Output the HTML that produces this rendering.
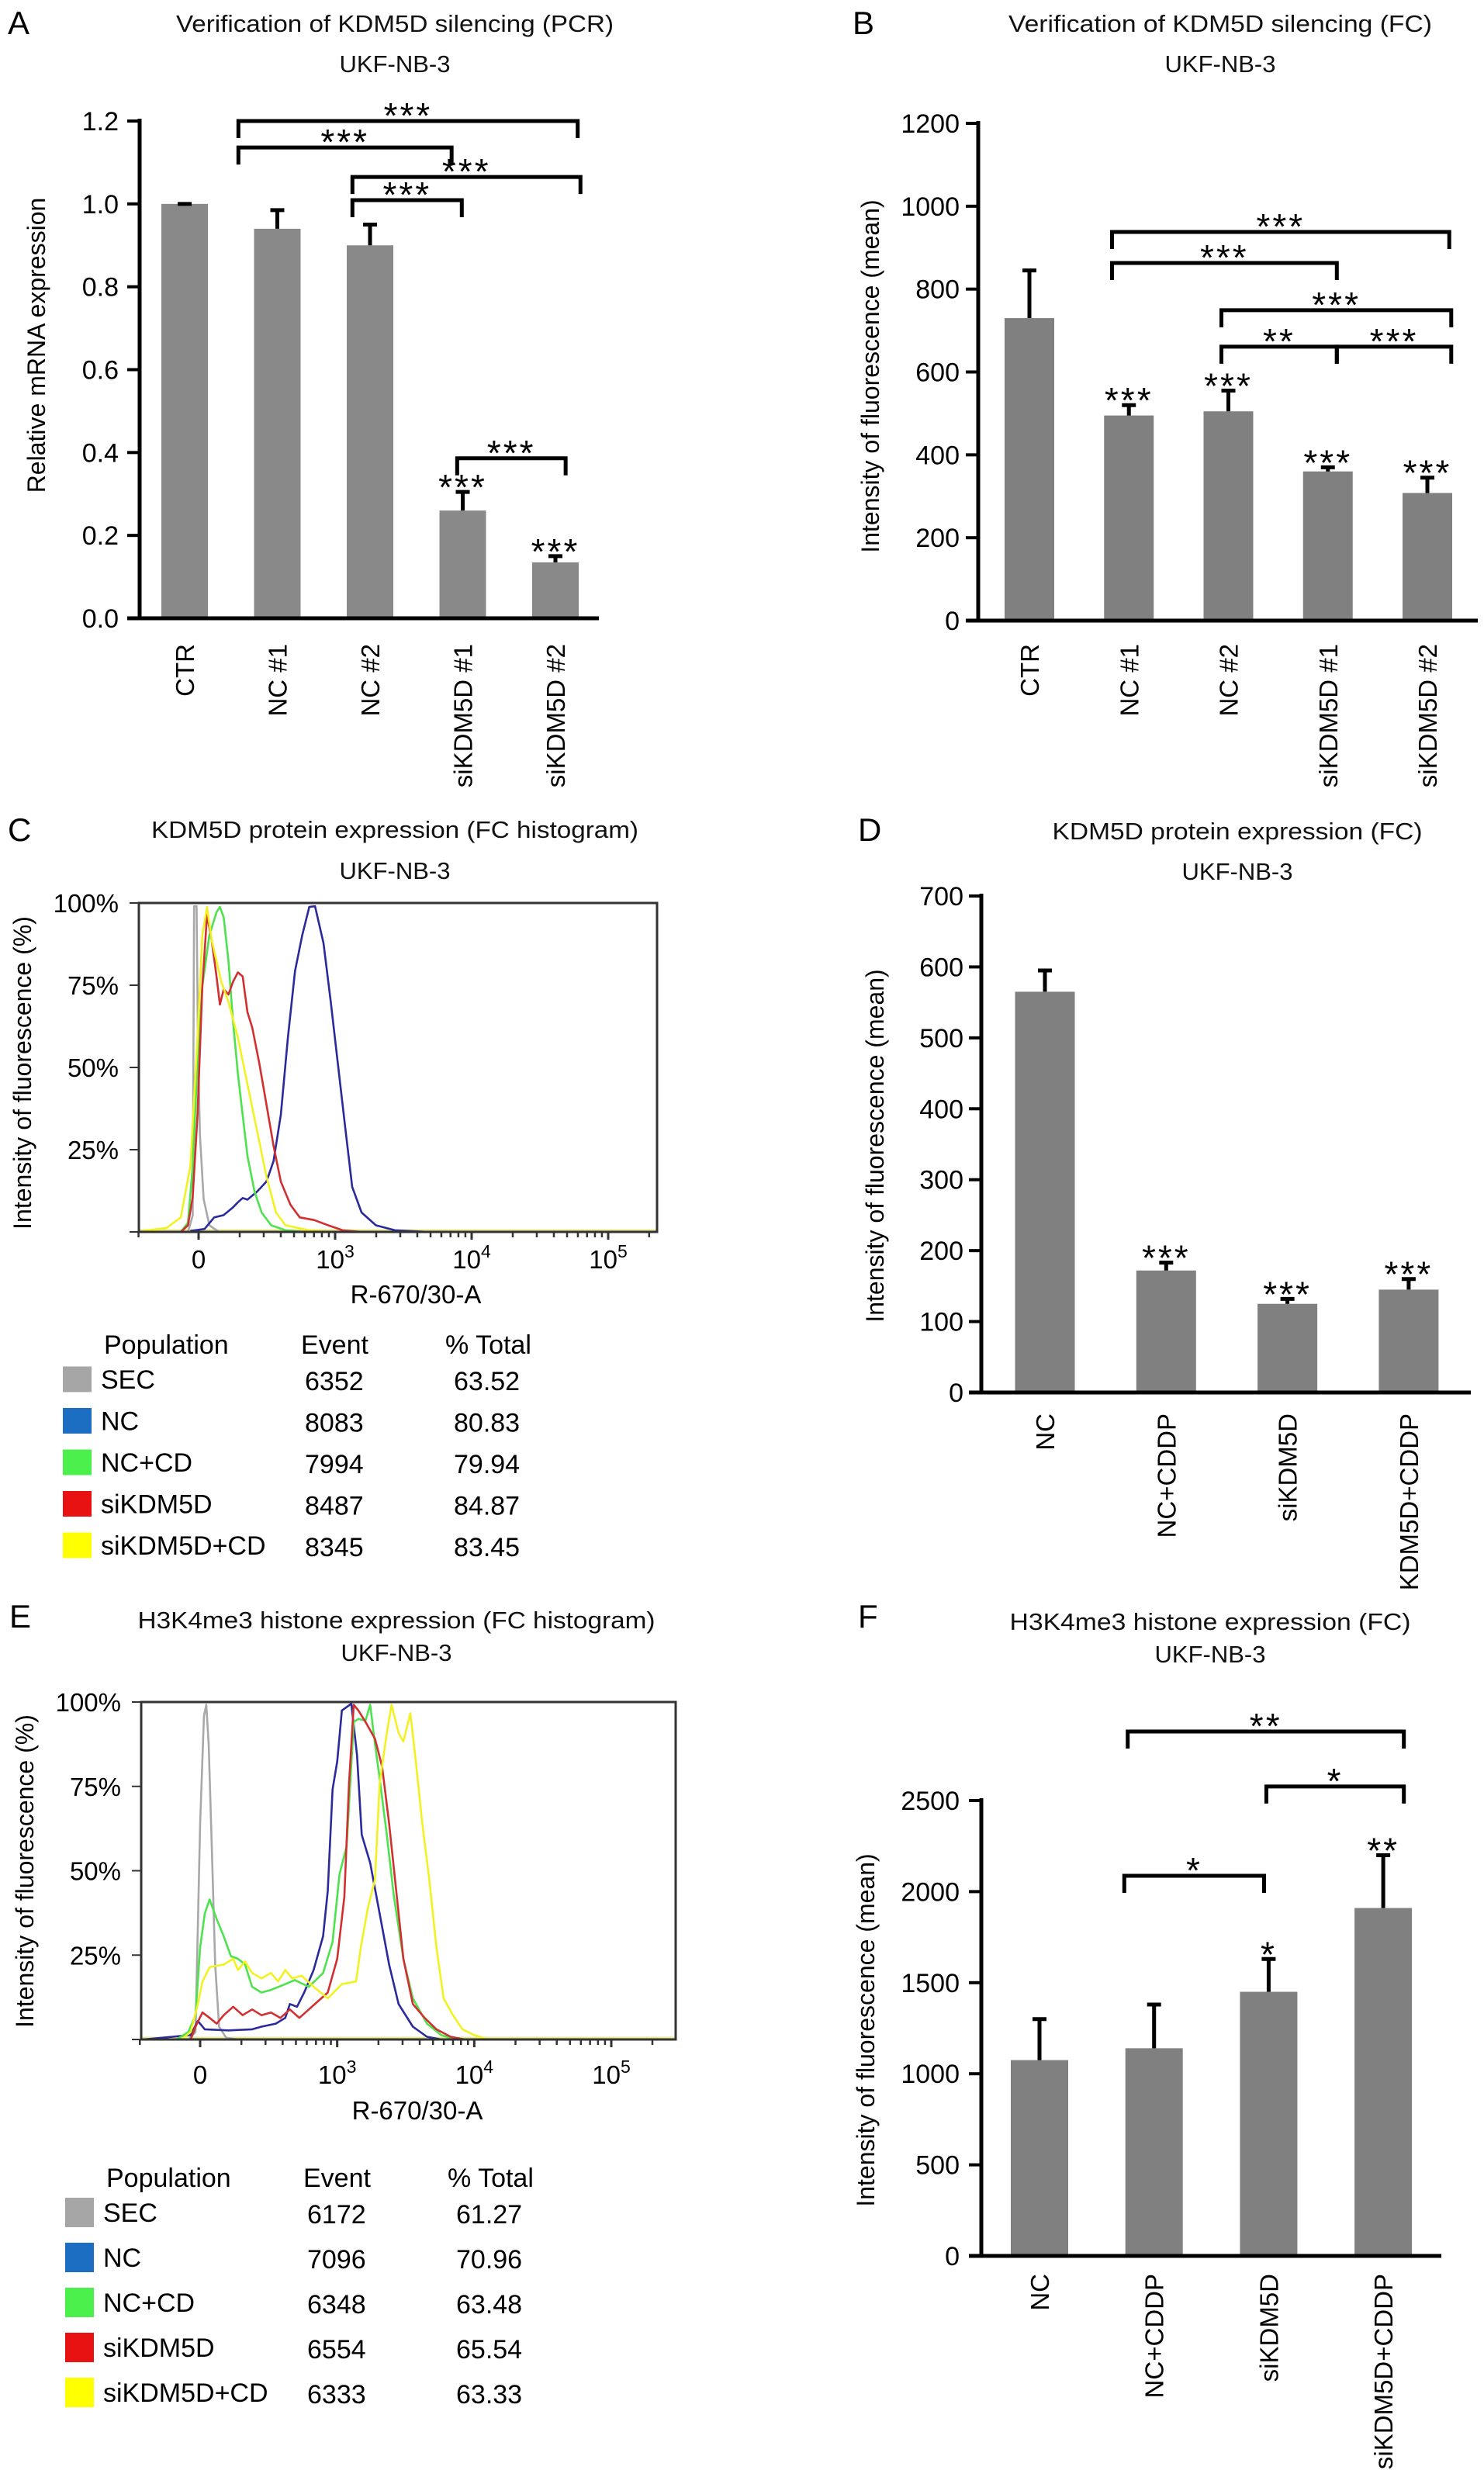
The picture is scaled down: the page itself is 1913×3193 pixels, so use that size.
<!DOCTYPE html>
<html><head><meta charset="utf-8">
<style>
html,body{margin:0;padding:0;background:#fff;}
svg{display:block;font-family:"Liberation Sans",Arial,sans-serif;}
</style></head>
<body>
<svg id="fig" width="1913" height="3193" viewBox="0 0 1913 3193" xmlns="http://www.w3.org/2000/svg">
<rect width="1913" height="3193" fill="#fff"/>
<text x="10" y="44" font-size="42">A</text>
<text x="1099" y="44" font-size="42">B</text>
<text x="10" y="1084" font-size="42">C</text>
<text x="1106" y="1084" font-size="42">D</text>
<text x="12" y="2098" font-size="42">E</text>
<text x="1106" y="2098" font-size="42">F</text>
<g font-size="31" text-anchor="middle" fill="#111">
<text x="509" y="41" textLength="564" lengthAdjust="spacingAndGlyphs">Verification of KDM5D silencing (PCR)</text>
<text x="509" y="93">UKF-NB-3</text>
<text x="1573" y="41" textLength="546" lengthAdjust="spacingAndGlyphs">Verification of KDM5D silencing (FC)</text>
<text x="1573" y="93">UKF-NB-3</text>
<text x="509" y="1080" textLength="628" lengthAdjust="spacingAndGlyphs">KDM5D protein expression (FC histogram)</text>
<text x="509" y="1133">UKF-NB-3</text>
<text x="1595" y="1082" textLength="477" lengthAdjust="spacingAndGlyphs">KDM5D protein expression (FC)</text>
<text x="1595" y="1134">UKF-NB-3</text>
<text x="511" y="2099" textLength="667" lengthAdjust="spacingAndGlyphs">H3K4me3 histone expression (FC histogram)</text>
<text x="511" y="2141">UKF-NB-3</text>
<text x="1560" y="2101" textLength="517" lengthAdjust="spacingAndGlyphs">H3K4me3 histone expression (FC)</text>
<text x="1560" y="2143">UKF-NB-3</text>
</g>
<g id="layer"></g>
</svg>
<script>
// ===== Panel A data =====
const aCats = ["CTR","NC #1","NC #2","siKDM5D #1","siKDM5D #2"];
const aVals = [1.0,0.94,0.90,0.26,0.135];
const aErr = [1.0,0.985,0.95,0.305,0.15];
const aTicks = [0,0.2,0.4,0.6,0.8,1.0,1.2];
const aTickLabels = ["0.0","0.2","0.4","0.6","0.8","1.0","1.2"];
const aBarStars = ["","","","***","***"];
const aBrFrom = [0.58,0.58,1.81,1.81,2.94];
const aBrTo = [4.24,2.88,4.27,2.99,4.11];
const aBrLevel = [1.2,1.136,1.065,1.009,0.386];
const aBrLabel = ["***","***","***","***","***"];
// ===== Panel B data =====
const bCats = ["CTR","NC #1","NC #2","siKDM5D #1","siKDM5D #2"];
const bVals = [730,495,505,360,308];
const bErr = [845,520,555,370,345];
const bTicks = [0,200,400,600,800,1000,1200];
const bTickLabels = ["0","200","400","600","800","1000","1200"];
const bBarStars = ["","***","***","***","***"];
const bBrFrom = [0.83,0.83,1.93,1.93,3.09];
const bBrTo = [4.22,3.09,4.24,3.09,4.24];
const bBrLevel = [938,863,749,661,661];
const bBrLabel = ["***","***","***","**","***"];
// ===== Panel D data =====
const dCats = ["NC","NC+CDDP","siKDM5D","KDM5D+CDDP"];
const dVals = [565,172,125,145];
const dErr = [595,183,132,160];
const dTicks = [0,100,200,300,400,500,600,700];
const dTickLabels = ["0","100","200","300","400","500","600","700"];
const dBarStars = ["","***","***","***"];
// ===== Panel F data =====
const fCats = ["NC","NC+CDDP","siKDM5D","siKDM5D+CDDP"];
const fVals = [1075,1140,1450,1910];
const fErr = [1300,1380,1630,2200];
const fTicks = [0,500,1000,1500,2000,2500];
const fTickLabels = ["0","500","1000","1500","2000","2500"];
const fBarStars = ["","","*","**"];
const fBrFrom = [0.77,1.98,0.74];
const fBrTo = [3.18,3.18,1.96];
const fBrLevel = [2879,2577,2087];
const fBrLabel = ["**","*","*"];
// ===== Panel C histogram data (x in axis units: 0, 10^3=1, 10^4=2, 10^5=3) =====
const cSecX = [-0.078,-0.043,-0.033,-0.015,-0.005,0.009,0.037,0.079,0.149];
const cSecY = [0,5,99,99,60,30,10,2,0];
const cNcX = [-0.06,0.044,0.114,0.183,0.253,0.288,0.323,0.358,0.427,0.497,0.549,0.602,0.654,0.706,0.759,0.811,0.853,0.915,0.968,1.02,1.072,1.125,1.194,1.299,1.438,1.682];
const cNcY = [0.3,0.9,4.4,5.1,7.5,9,10.3,9.8,12.2,15.3,21.5,35.6,59,79.3,90.2,98.8,99,87.8,69.9,51.2,32.4,13.7,5.9,2,0.5,0];
const cNcCdX = [-0.13,-0.078,-0.043,-0.008,0.027,0.079,0.131,0.156,0.184,0.219,0.253,0.288,0.323,0.358,0.41,0.462,0.532,0.637,0.776];
const cNcCdY = [0,2.8,20,51.2,74.6,90.2,97.2,98.8,95.6,82.4,63.7,48,35.6,23.1,12.2,5.9,2,0.5,0];
const cSiX = [-0.13,-0.078,-0.043,-0.008,0.027,0.062,0.096,0.131,0.156,0.184,0.219,0.253,0.288,0.323,0.358,0.393,0.445,0.497,0.549,0.602,0.672,0.741,0.846,0.95,1.055,1.194];
const cSiY = [0,2,10.6,35.6,74.6,96.4,88.6,77.7,69.1,73.8,72.2,76.1,78.9,77.7,66.8,62.1,51.2,38.7,26.2,15.3,8.3,4.4,3.6,2,0.5,0];
const cSiCdX = [-0.409,-0.235,-0.13,-0.06,-0.008,0.027,0.062,0.096,0.131,0.166,0.219,0.288,0.358,0.427,0.497,0.567,0.637,0.811,0.985];
const cSiCdY = [0.3,1.2,4.4,20,59,90.2,98.8,88.6,82.4,76.1,69.9,59,44.9,30.9,16.8,5.9,2,0.5,0];
// ===== Panel E histogram data =====
const eSecX = [-0.086,-0.034,0,0.028,0.045,0.062,0.086,0.11,0.138,0.19,0.276];
const eSecY = [0,2.2,64,95.8,99.2,87.5,55.7,22.2,3.8,0.5,0];
const eNcX = [-0.414,-0.069,-0.017,0.034,0.207,0.379,0.448,0.552,0.621,0.655,0.707,0.759,0.828,0.897,0.931,0.966,1.0,1.034,1.103,1.145,1.179,1.241,1.31,1.379,1.448,1.552,1.655,1.759];
const eNcY = [0,1.3,5.5,3,2.7,3,3.8,4.7,6.4,10.5,9.7,13.9,20.6,30.6,44,74.1,82.4,97.5,99.5,84.1,60.7,52.3,37.3,22.2,10.5,3.8,0.8,0];
const eNcCdX = [-0.172,-0.086,-0.034,0,0.034,0.069,0.121,0.172,0.224,0.276,0.328,0.379,0.448,0.517,0.621,0.69,0.793,0.897,0.966,1.017,1.069,1.121,1.155,1.207,1.241,1.276,1.31,1.362,1.414,1.483,1.552,1.655,1.759,1.862];
const eNcCdY = [0,2.2,7.2,27.3,37.3,41.5,35.6,30.6,24.7,23.9,22.2,15.6,13.9,14.7,16.4,17.6,15.6,19.7,28.9,49,57.4,94.1,95,94.5,99.2,87.5,77.4,60.7,42.3,23.9,12.2,4.7,1.3,0];
const eSiX = [-0.069,-0.034,0.017,0.069,0.121,0.172,0.241,0.31,0.379,0.448,0.517,0.586,0.655,0.724,0.793,0.862,0.931,1.0,1.052,1.086,1.121,1.155,1.207,1.276,1.328,1.379,1.431,1.483,1.552,1.638,1.724,1.828,1.931];
const eSiY = [0,3.8,8,6.4,4.7,7.2,9.7,7.2,8.9,7.2,8,6.4,8.9,6.4,8.9,11.4,13.9,23.9,42.3,75.8,99.2,97.5,94.1,89.1,80.8,64,44,23.9,10.5,6.4,3,0.8,0];
const eSiCdX = [-0.138,-0.069,-0.017,0.017,0.069,0.172,0.241,0.276,0.328,0.379,0.448,0.517,0.569,0.621,0.672,0.741,0.828,0.931,1.034,1.138,1.172,1.224,1.276,1.31,1.362,1.397,1.448,1.483,1.534,1.569,1.621,1.672,1.724,1.776,1.845,1.914,2.0,2.103];
const eSiCdY = [0,2.2,10.5,17.2,21.4,22.2,23.9,20.6,23.1,19.7,18.1,19.7,17.2,20.6,18.1,18.9,15.6,12.2,16.4,17.2,27.3,39,47.3,75.8,90.8,99.2,90.8,88.3,96.7,84.1,64,47.3,27.3,12.2,7.2,3,1.3,0];
const histTicks = [0,25,50,75,100];
const histTickLabels = ["","25%","50%","75%","100%"];
const histXTicks = [0,1,2,3];
const legendNames = ["SEC","NC","NC+CD","siKDM5D","siKDM5D+CD"];
const cEvents = ["6352","8083","7994","8487","8345"];
const cTotals = ["63.52","80.83","79.94","84.87","83.45"];
const eEvents = ["6172","7096","6348","6554","6333"];
const eTotals = ["61.27","70.96","63.48","65.54","63.33"];

const NS = "http://www.w3.org/2000/svg";
const layer = document.getElementById('layer');
function mk(tag, attrs, parent, text){
  const el = document.createElementNS(NS, tag);
  for (const k in attrs) el.setAttribute(k, attrs[k]);
  if (text !== undefined) el.textContent = text;
  (parent || layer).appendChild(el);
  return el;
}
function lin(d0,d1,r0,r1){ return v => r0 + (v-d0)*(r1-r0)/(d1-d0); }

function barChart(id, L, cats, vals, errs, ticks, tickLabels, barStars, brFrom, brTo, brLevel, brLabel){
  const g = mk('g', {});
  
  
  const y = lin(0, L.ymax, L.y0, L.ytop);
  const x = i => L.x0c + i * L.slot;
  cats.forEach((c, i) => {
    const top = y(vals[i]);
    const b = mk('rect', {x: x(i) - L.bw/2, y: top, width: L.bw, height: L.y0 - top, fill: L.color}, g);
    
    
    const et = y(errs[i]);
    const e = mk('path', {d: `M${x(i)},${top} V${et} M${x(i)-9},${et} H${x(i)+9}`, stroke: '#000', 'stroke-width': 5, fill: 'none'}, g);
    
    
    if (barStars[i]) {
      const s = mk('text', {x: x(i), y: et - 16 + 26, 'font-size': 46, 'text-anchor': 'middle', 'letter-spacing': 3}, g, barStars[i]);
      
      
    }
    const t = mk('text', {transform: `translate(${x(i)+12},${L.labTop}) rotate(-90)`, 'font-size': 33, 'text-anchor': 'end'}, g, c);
    
    
  });
  const ax = mk('path', {d: `M${L.ax},${L.ytop - 3} V${L.y0} M${L.ax - 16},${L.y0} H${L.xend}`, stroke: '#000', 'stroke-width': 5, fill: 'none'}, g);
  
  
  ticks.forEach((tv, k) => {
    const ty = y(tv);
    const tk = mk('line', {x1: L.ax - 16, x2: L.ax, y1: ty, y2: ty, stroke: '#000', 'stroke-width': 4}, g);
    
    
    const tl = mk('text', {x: L.tickRight, y: ty + 12, 'font-size': 34, 'text-anchor': 'end'}, g, tickLabels[k]);
    
    
  });
  const yt = mk('text', {transform: `translate(${L.ylx},${L.yly}) rotate(-90)`, 'font-size': 32, 'text-anchor': 'middle'}, g, L.ytitle);
  
  
  if (brFrom) brFrom.forEach((f, k) => {
    const by = y(brLevel[k]);
    const x1 = x(f), x2 = x(brTo[k]);
    const br = mk('path', {d: `M${x1},${by + 22} V${by} H${x2} V${by + 22}`, stroke: '#000', 'stroke-width': 5, fill: 'none'}, g);
    
    
    const st = mk('text', {x: (x1 + x2) / 2, y: by - 17 + 26, 'font-size': 46, 'text-anchor': 'middle', 'letter-spacing': 3}, g, brLabel[k]);
    
    
  });
}

barChart('panel-a', {y0: 797, ytop: 156, ymax: 1.2, x0c: 238, slot: 119.5, bw: 60, ax: 180, xend: 772, tickRight: 153, labTop: 830, ylx: 58, yly: 445, ytitle: 'Relative mRNA expression', color: '#898989'},
  aCats, aVals, aErr, aTicks, aTickLabels, aBarStars, aBrFrom, aBrTo, aBrLevel, aBrLabel);
barChart('panel-b', {y0: 800, ytop: 159, ymax: 1200, x0c: 1327, slot: 128.25, bw: 64, ax: 1261, xend: 1905, tickRight: 1237, labTop: 830, ylx: 1133, yly: 485, ytitle: 'Intensity of fluorescence (mean)', color: '#808080'},
  bCats, bVals, bErr, bTicks, bTickLabels, bBarStars, bBrFrom, bBrTo, bBrLevel, bBrLabel);
barChart('panel-d', {y0: 1795, ytop: 1155, ymax: 700, x0c: 1347, slot: 156.3, bw: 77, ax: 1265, xend: 1896, tickRight: 1242, labTop: 1822, ylx: 1139, yly: 1477, ytitle: 'Intensity of fluorescence (mean)', color: '#808080'},
  dCats, dVals, dErr, dTicks, dTickLabels, dBarStars, null, null, null, null);
barChart('panel-f', {y0: 2908, ytop: 2321, ymax: 2500, x0c: 1340, slot: 147.7, bw: 74, ax: 1265, xend: 1858, tickRight: 1237, labTop: 2931, ylx: 1127, yly: 2617, ytitle: 'Intensity of fluorescence (mean)', color: '#808080'},
  fCats, fVals, fErr, fTicks, fTickLabels, fBarStars, fBrFrom, fBrTo, fBrLevel, fBrLabel);

const curveColors = ['#a8a8a8', '#2a2a9c', '#4ee24e', '#d23030', '#f2f222'];
const swatchColors = ['#a6a6a6', '#1b6ec2', '#4cf04c', '#e81212', '#ffff00'];

function hist(id, L, series, events, totals){
  const g = mk('g', {});
  
  
  const x = lin(0, 3, L.x0, L.x3);
  const y = lin(0, 100, L.yb, L.yt);
  const bl = mk('line', {x1: L.fl, x2: L.fr, y1: L.yb - 2, y2: L.yb - 2, stroke: '#e8e890', 'stroke-width': 3}, g);
  
  
  series.forEach((s, k) => {
    const pts = s[0].map((u, i) => x(u).toFixed(1) + ',' + y(s[1][i]).toFixed(1)).join(' ');
    const pl = mk('polyline', {points: pts, fill: 'none', stroke: curveColors[k], 'stroke-width': 2.6, 'stroke-linejoin': 'round'}, g);
    
    
  });
  const fr = mk('rect', {x: L.fl, y: L.yt, width: L.fr - L.fl, height: L.yb - L.yt, fill: 'none', stroke: '#333', 'stroke-width': 3}, g);
  
  
  histTicks.forEach((tv, k) => {
    const ty = y(tv);
    const t = mk('line', {x1: L.fl - 12, x2: L.fl, y1: ty, y2: ty, stroke: '#333', 'stroke-width': 2}, g);
    
    
    if (histTickLabels[k]) {
      const tl = mk('text', {x: L.fl - 26, y: ty + 12, 'font-size': 33, 'text-anchor': 'end'}, g, histTickLabels[k]);
      
      
    }
  });
  const minor = [-0.44];
  for (let d = 0; d < 3; d++) for (let k = 2; k <= 10; k++) minor.push(d + Math.log10(k));
  minor.push(3.3);
  minor.forEach(u => {
    const t = mk('line', {x1: x(u), x2: x(u), y1: L.yb, y2: L.yb + 7, stroke: '#333', 'stroke-width': 2.5}, g);
    
    
  });
  histXTicks.forEach(u => {
    const t = mk('line', {x1: x(u), x2: x(u), y1: L.yb, y2: L.yb + 10, stroke: '#333', 'stroke-width': 3}, g);
    
    
    const tl = mk('text', {x: x(u), y: L.xly, 'font-size': 33, 'text-anchor': 'middle'}, g);
    
    
    if (u === 0) tl.textContent = '0';
    else { tl.textContent = '10'; mk('tspan', {'font-size': 23, dy: -14}, tl, String(u + 2)); }
  });
  const xt = mk('text', {x: L.xtx, y: L.xty, 'font-size': 33, 'text-anchor': 'middle'}, g, 'R-670/30-A');
  
  
  const yt = mk('text', {transform: `translate(${L.ylx},${L.yly}) rotate(-90)`, 'font-size': 32, 'text-anchor': 'middle'}, g, 'Intensity of fluorescence (%)');
  
  
  const lg = mk('g', {'font-size': 34}, g);
  
  
  const h1 = mk('text', {x: L.lx + 53, y: L.lh + 12}, lg, 'Population');
  
  
  const h2 = mk('text', {x: L.lx + 307, y: L.lh + 12}, lg, 'Event');
  
  
  const h3 = mk('text', {x: L.lx + 493, y: L.lh + 12}, lg, '% Total');
  
  
  legendNames.forEach((n, k) => {
    const ry = L.lr0 + k * L.lstep;
    const sw = mk('rect', {x: L.lx, y: ry - L.sh / 2, width: 37, height: L.sh, fill: swatchColors[k]}, lg);
    
    
    const t1 = mk('text', {x: L.lx + 49, y: ry + 12}, lg, n);
    
    
    const t2 = mk('text', {x: L.lx + 312, y: ry + 14}, lg, events[k]);
    
    
    const t3 = mk('text', {x: L.lx + 504, y: ry + 14}, lg, totals[k]);
    
    
  });
}

hist('panel-c', {fl: 179, fr: 847, yt: 1164, yb: 1588, x0: 256, x3: 784, xly: 1635, xtx: 536, xty: 1680, ylx: 40, yly: 1383, lx: 81, lh: 1733, lr0: 1778, lstep: 53.5, sh: 33},
  [[cSecX, cSecY], [cNcX, cNcY], [cNcCdX, cNcCdY], [cSiX, cSiY], [cSiCdX, cSiCdY]], cEvents, cTotals);
hist('panel-e', {fl: 182, fr: 871, yt: 2194, yb: 2629, x0: 258, x3: 788, xly: 2686, xtx: 538, xty: 2732, ylx: 43, yly: 2412, lx: 84, lh: 2807, lr0: 2852, lstep: 58, sh: 38},
  [[eSecX, eSecY], [eNcX, eNcY], [eNcCdX, eNcCdY], [eSiX, eSiY], [eSiCdX, eSiCdY]], eEvents, eTotals);
</script>
</body></html>
